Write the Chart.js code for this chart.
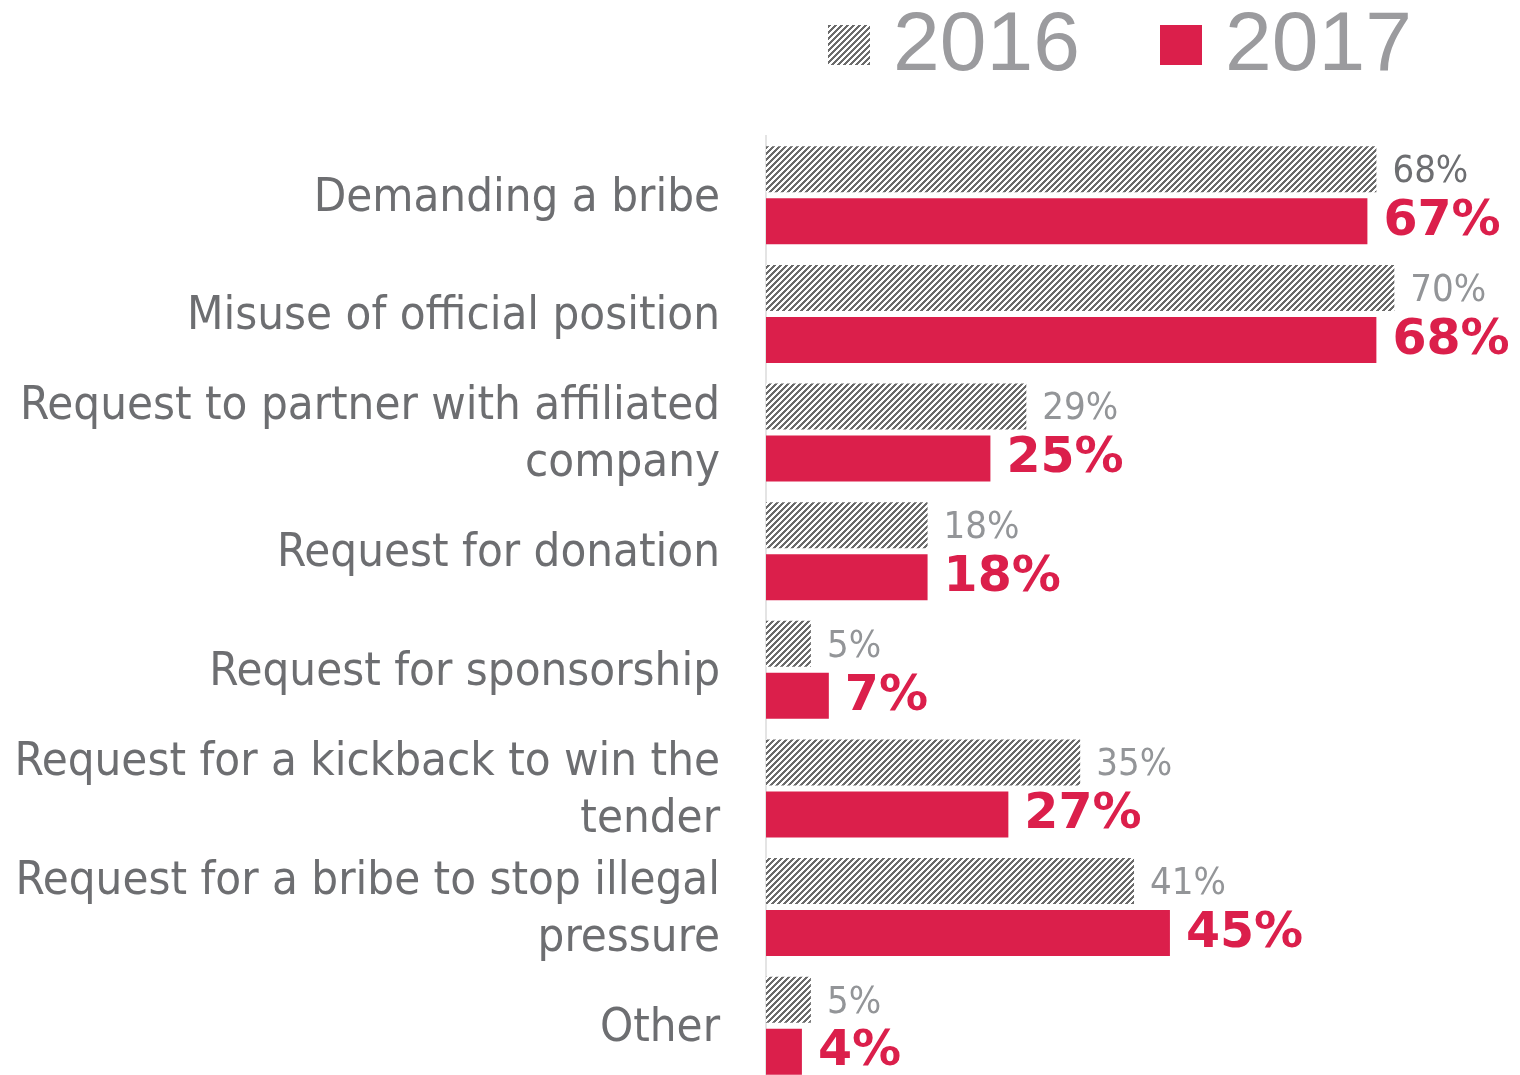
<!DOCTYPE html>
<html>
<head>
<meta charset="utf-8">
<script src="https://cdn.jsdelivr.net/npm/chart.js@4"></script>
<style>
  html, body { margin: 0; padding: 0; background: #fff; overflow: hidden; }
  #wrap { position: relative; width: 1520px; height: 1075px; }
  #chart { position: absolute; left: 0; top: 0; }
  .leg { position: absolute; top: 0; height: 90px; }
  .leg canvas, .leg .box { position: absolute; left: 0; top: 25px; width: 42px; height: 40px; }
  .leg .txt { position: absolute; left: 65px; top: -1px; font: 84px "Liberation Sans", Arial, sans-serif;
              line-height: 84px; color: #9b9b9e; white-space: nowrap; }
</style>
</head>
<body>
<div id="wrap">
  <canvas id="chart" width="1520" height="1095"></canvas>
  <div class="leg" id="leg0" style="left:828px"><canvas width="42" height="40"></canvas><span class="txt"></span></div>
  <div class="leg" id="leg1" style="left:1160px"><div class="box"></div><span class="txt"></span></div>
</div>
<script>
// data
const categories = [
  'Demanding a bribe',
  'Misuse of official position',
  ['Request to partner with affiliated', 'company'],
  'Request for donation',
  'Request for sponsorship',
  ['Request for a kickback to win the', 'tender'],
  ['Request for a bribe to stop illegal', 'pressure'],
  'Other'
];
const seriesNames = ['2016', '2017'];
const values2016 = [68, 70, 29, 18, 5, 35, 41, 5];
const values2017 = [67, 68, 25, 18, 7, 27, 45, 4];

const RED = '#db1f4b';
const HATCH = '#6b6b6b';

// diagonal hatch used for the 2016 bars
function makeHatch() {
  const c = document.createElement('canvas');
  const n = 6;
  c.width = n; c.height = n;
  const g = c.getContext('2d');
  g.fillStyle = '#fff';
  g.fillRect(0, 0, n, n);
  g.fillStyle = HATCH;
  for (let x = 0; x < n; x++) {
    for (let y = 0; y < n; y++) {
      if ((x + y) % n < 3) g.fillRect(x, y, 1, 1);
    }
  }
  return g.createPattern(c, 'repeat');
}

const ctx = document.getElementById('chart').getContext('2d');
const hatch = makeHatch();

// legend (html)
document.querySelector('#leg0 .txt').textContent = seriesNames[0];
document.querySelector('#leg1 .txt').textContent = seriesNames[1];
document.querySelector('#leg1 .box').style.background = RED;
const lc = document.querySelector('#leg0 canvas').getContext('2d');
lc.fillStyle = makeHatch();
lc.fillRect(0, 0, 42, 40);

// value labels at the end of the bars
const barLabels = {
  id: 'barLabels',
  afterDatasetsDraw(chart) {
    const c = chart.ctx;
    chart.data.datasets.forEach((ds, i) => {
      const meta = chart.getDatasetMeta(i);
      meta.data.forEach((bar, j) => {
        c.save();
        if (i === 0) {
          c.font = '38px "DejaVu Sans Condensed", "DejaVu Sans", sans-serif';
          c.fillStyle = j === 0 ? '#6d6e71' : '#939598';
        } else {
          c.font = 'bold 49px "DejaVu Sans", sans-serif';
          c.fillStyle = RED;
        }
        c.textAlign = 'left';
        c.textBaseline = 'middle';
        c.fillText(ds.data[j] + '%', bar.x + 16, bar.y + (i === 0 ? 3 : 1));
        c.restore();
      });
    });
  }
};

new Chart(ctx, {
  type: 'bar',
  data: {
    labels: categories,
    datasets: [
      { label: seriesNames[0], data: values2016, backgroundColor: hatch, borderWidth: 0 },
      { label: seriesNames[1], data: values2017, backgroundColor: RED, borderWidth: 0 }
    ]
  },
  options: {
    indexAxis: 'y',
    responsive: false,
    animation: false,
    devicePixelRatio: 1,
    layout: { padding: { top: 136, bottom: 10, left: 0, right: 0 } },
    datasets: { bar: { categoryPercentage: 0.877, barPercentage: 0.885 } },
    scales: {
      x: {
        min: 0, max: 84,
        display: false,
        grid: { display: false }
      },
      y: {
        afterFit(scale) {
          scale.width = 766;
          scale.paddingTop = 0;
          scale.paddingBottom = 0;
        },
        grid: { display: false, drawTicks: false },
        border: { display: true, color: '#e4e4e4', width: 2 },
        ticks: {
          padding: 46,
          labelOffset: 3,
          color: '#6d6e71',
          font: { family: '"DejaVu Sans Condensed", "DejaVu Sans", sans-serif', size: 47, lineHeight: 1.21 }
        }
      }
    },
    plugins: {
      legend: { display: false },
      tooltip: { enabled: false }
    }
  },
  plugins: [barLabels]
});
</script>
</body>
</html>
